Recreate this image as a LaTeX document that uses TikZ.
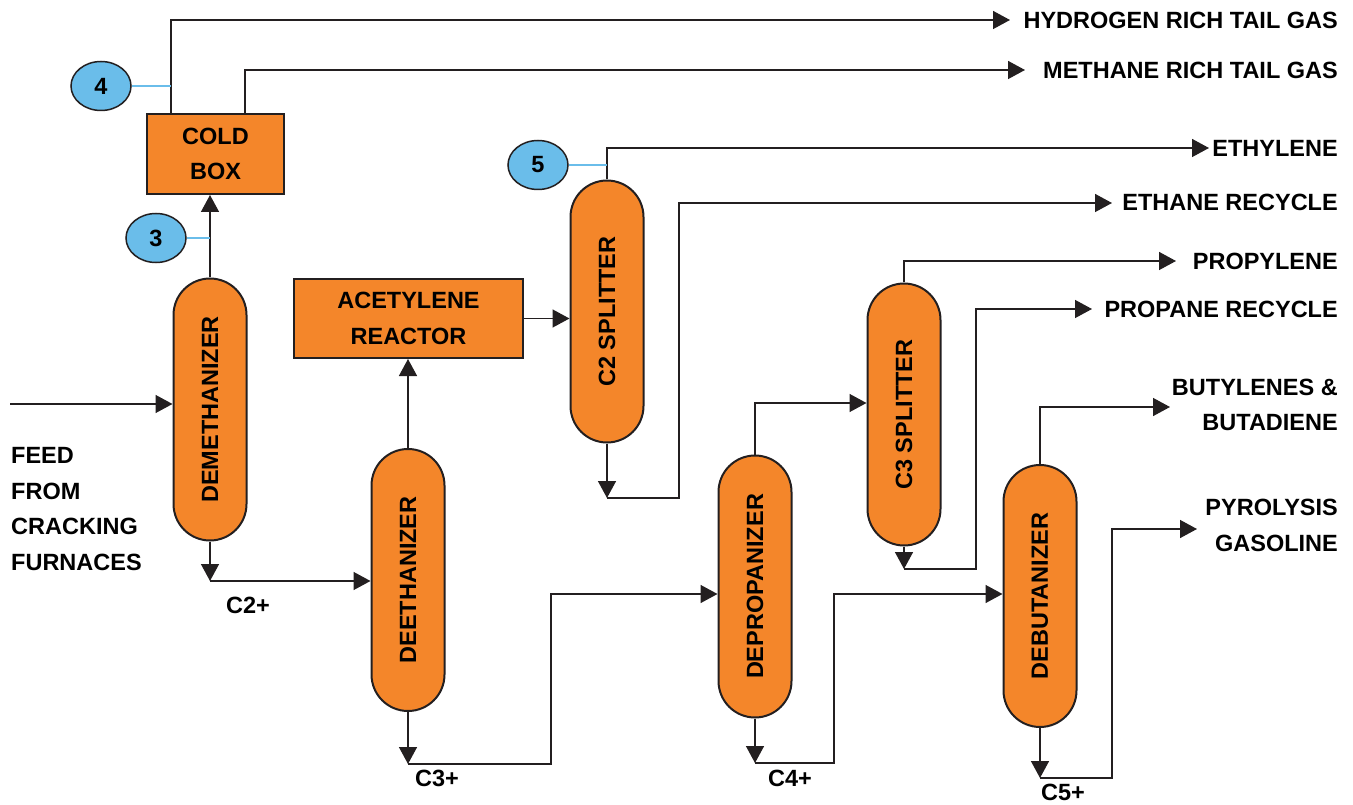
\documentclass[tikz,border=0pt]{standalone}
\usepackage{fontspec}
\setmainfont{Liberation Sans}
\usetikzlibrary{arrows.meta, shapes.geometric}
\definecolor{colorange}{RGB}{244,134,42}
\definecolor{tagblue}{RGB}{106,189,234}
\definecolor{linegray}{RGB}{35,31,32}

\begin{document}
\begin{tikzpicture}[x=1pt,y=-1pt,
  font=\fontsize{23.5}{35.5}\selectfont\bfseries,
  column/.style={draw=linegray, line width=2pt, fill=colorange, rounded corners=36.5pt,
    minimum width=73pt, minimum height=262pt, inner sep=0pt},
  unit/.style={draw=linegray, line width=2pt, fill=colorange, align=center, inner sep=0pt},
  tag/.style={ellipse, draw=linegray, line width=1.5pt, fill=tagblue,
    minimum width=60pt, minimum height=49pt, inner sep=0pt},
  flow/.style={draw=linegray, line width=1.5pt, -{Triangle[length=17pt,width=18pt]}},
  tagline/.style={draw=tagblue, line width=1.5pt},
  product/.style={anchor=east, align=right, inner sep=0pt},
  cut/.style={inner sep=0pt}]
\useasboundingbox (0,0) rectangle (1353,805);

%columns
\node[column] (demeth) at (210,409.5) {\rotatebox{90}{DEMETHANIZER}};
\node[column] (deeth)  at (408,580)   {\rotatebox{90}{DEETHANIZER}};
\node[column] (c2)     at (607,311.5) {\rotatebox{90}{C2 SPLITTER}};
\node[column] (c3)     at (904,414.5) {\rotatebox{90}{C3 SPLITTER}};
\node[column] (deprop) at (755,586.5) {\rotatebox{90}{DEPROPANIZER}};
\node[column] (debut)  at (1040,596)  {\rotatebox{90}{DEBUTANIZER}};

%boxes
\node[unit, minimum width=137pt, minimum height=80pt] (cold) at (215.5,154) {COLD\\BOX};
\node[unit, minimum width=229pt, minimum height=79pt] (reactor) at (408.5,318.5) {ACETYLENE\\REACTOR};

%stream numbers
\node[tag] (tag4) at (101,86)  {4};
\node[tag] (tag3) at (156,238) {3};
\node[tag] (tag5) at (538,165) {5};

%products
\node[product] (hydro)   at (1338,20)    {HYDROGEN RICH TAIL GAS};
\node[product] (methane) at (1338,70)    {METHANE RICH TAIL GAS};
\node[product] (ethyl)   at (1338,148)   {ETHYLENE};
\node[product] (ethane)  at (1338,202)   {ETHANE RECYCLE};
\node[product] (propyl)  at (1338,261)   {PROPYLENE};
\node[product] (propane) at (1338,309)   {PROPANE RECYCLE};
\node[product] (butyl)   at (1338,405)   {BUTYLENES \&\\BUTADIENE};
\node[product] (pyro)    at (1338,525.5) {PYROLYSIS\\GASOLINE};
\node[anchor=west, align=left, inner sep=0pt] (feed) at (11,509) {FEED\\FROM\\CRACKING\\FURNACES};

%cuts
\node[cut] (lc2) at (248,605)  {C2+};
\node[cut] (lc3) at (437,778)  {C3+};
\node[cut] (lc4) at (790,778)  {C4+};
\node[cut] (lc5) at (1063,792) {C5+};

%-------------------------------------------------
\coordinate (feedin) at (10,404);
\coordinate (h2top)  at (171,20);   \coordinate (h2end)   at (1010,20);
\coordinate (ch4top) at (245,70);   \coordinate (ch4end)  at (1025,70);
\coordinate (ethtop) at (607,148);  \coordinate (ethend)  at (1209,148);
\coordinate (c2bot)  at (607,498);
\coordinate (ethup)  at (679,203);  \coordinate (ethaneend) at (1112,203);
\coordinate (c2plus) at (210,581);
\coordinate (c3plus) at (408,764);  \coordinate (c3up)    at (551,594);
\coordinate (c3feed) at (0,403);
\coordinate (c4plus) at (755,763);  \coordinate (c4up)    at (834,594);
\coordinate (proptop) at (904,261); \coordinate (propend) at (1176,261);
\coordinate (c3bot)  at (904,569);
\coordinate (propup) at (976,309);  \coordinate (propaneend) at (1092,309);
\coordinate (buttop) at (1040,407); \coordinate (butend)  at (1170,407);
\coordinate (c5plus) at (1040,778);
\coordinate (pyroup) at (1112,529); \coordinate (pyroend) at (1197,529);

%feed and demethanizer
\draw[flow] (feedin) -- (feedin -| demeth.west);
\draw[flow] (demeth.north) -- (demeth.north |- cold.south);
\draw[tagline] (tag3.east) -- (tag3.east -| demeth.north);
\draw[flow] (h2top |- cold.north) -- (h2top) -- (h2end);
\draw[flow] (ch4top |- cold.north) -- (ch4top) -- (ch4end);
\draw[tagline] (tag4.east) -- (tag4.east -| h2top);
\draw[flow] (demeth.south) -- (c2plus);
\draw[flow] (c2plus) -- (c2plus -| deeth.west);

%deethanizer
\draw[flow] (deeth.north) -- (deeth.north |- reactor.south);
\draw[flow] (reactor.east) -- (reactor.east -| c2.west);
\draw[flow] (deeth.south) -- (c3plus);
\draw[flow] (c3plus) -- (c3plus -| c3up) -- (c3up) -- (c3up -| deprop.west);

%c2 splitter
\draw[flow] (c2.north) -- (ethtop) -- (ethend);
\draw[tagline] (tag5.east) -- (tag5.east -| c2.north);
\draw[flow] (c2.south) -- (c2bot);
\draw[flow] (c2bot) -- (c2bot -| ethup) -- (ethup) -- (ethaneend);

%depropanizer
\draw[flow] (deprop.north) -- (deprop.north |- c3feed) -- (c3feed -| c3.west);
\draw[flow] (deprop.south) -- (c4plus);
\draw[flow] (c4plus) -- (c4plus -| c4up) -- (c4up) -- (c4up -| debut.west);

%c3 splitter
\draw[flow] (c3.north) -- (proptop) -- (propend);
\draw[flow] (c3.south) -- (c3bot);
\draw[flow] (c3bot) -- (c3bot -| propup) -- (propup) -- (propaneend);

%debutanizer
\draw[flow] (debut.north) -- (buttop) -- (butend);
\draw[flow] (debut.south) -- (c5plus);
\draw[flow] (c5plus) -- (c5plus -| pyroup) -- (pyroup) -- (pyroend);
\end{tikzpicture}
\end{document}
